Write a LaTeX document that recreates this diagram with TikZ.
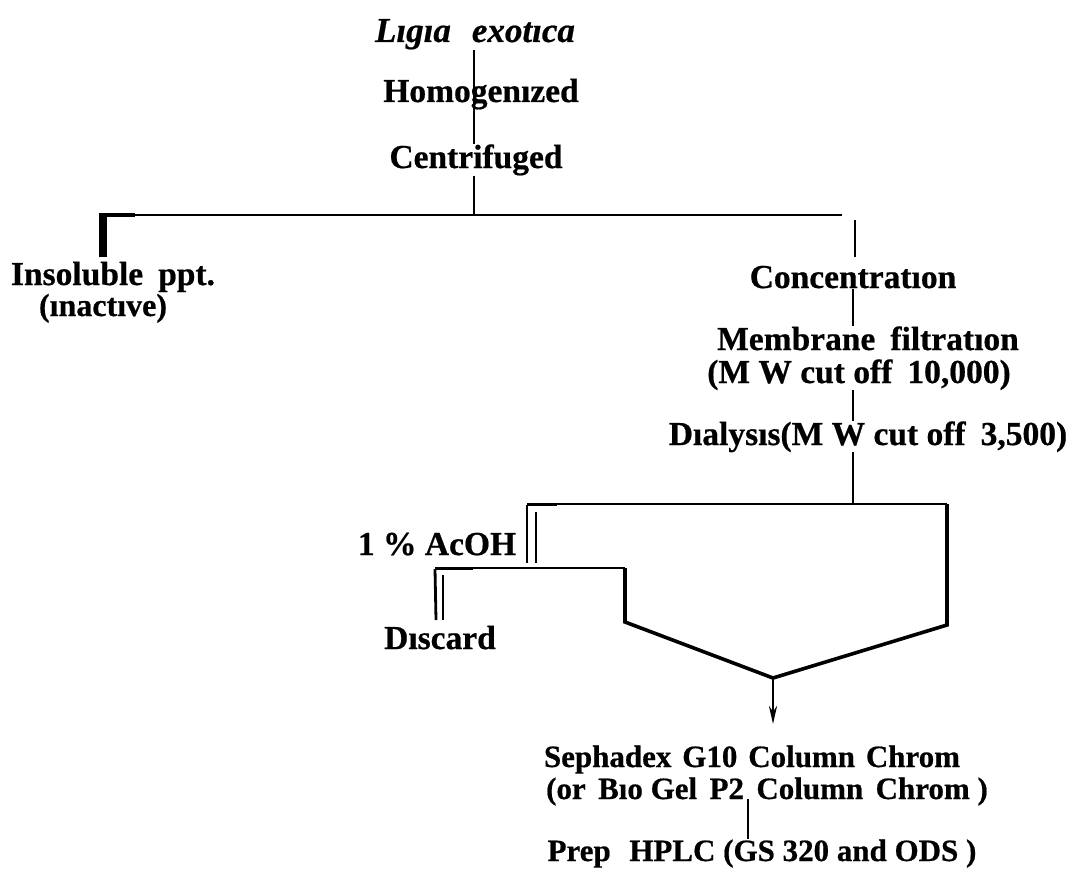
\documentclass[tikz,border=0pt]{standalone}
\usepackage{fontspec}
\setmainfont{Liberation Serif}[BoldFeatures={FakeBold=0.6},BoldItalicFeatures={FakeBold=0.6}]
\usetikzlibrary{arrows.meta}
\begin{document}
\begin{tikzpicture}[x=1pt,y=-1pt,
  lab/.style={anchor=base, inner sep=0pt, font=\fontsize{33.5}{40}\selectfont\bfseries},
  labs/.style={anchor=base, inner sep=0pt, font=\fontsize{31}{37}\selectfont\bfseries},
  hline/.style={line width=1.4pt},
  vline/.style={line width=2.8pt},
  dline/.style={line width=3.6pt, line join=miter},
  heavy/.style={line width=8pt}]
\useasboundingbox (0,0) rectangle (1076,880);
% texts
\node[lab, font=\fontsize{35}{40}\selectfont\bfseries\itshape] (lig) at (475,42) {Lıgıa\hspace{0.6em}exotıca};
\node[lab] (hom) at (481,102) {Homogenızed};
\node[lab] (cen) at (476,168) {Centrifuged};
\node[lab] (ins) at (113,285) {Insoluble\hspace{0.45em}ppt.};
\node[lab, font=\fontsize{32}{38}\selectfont\bfseries] (ina) at (103,316) {(ınactıve)};
\node[lab] (con) at (853,288) {Concentratıon};
\node[lab] (mem) at (868,350) {Membrane\hspace{0.45em}filtratıon};
\node[lab] (mwa) at (859,383) {(M W cut off\hspace{0.45em}10,000)};
\node[lab] (dia) at (868,445) {Dıalysıs(M W cut off\hspace{0.45em}3,500)};
\node[lab] (aco) at (437,555) {1 \% AcOH};
\node[lab] (dis) at (440,649) {Dıscard};
\node[labs] (sep) at (752,767) {Sephadex\hspace{0.35em}G10\hspace{0.35em}Column\hspace{0.35em}Chrom};
\node[labs] (bio) at (767,799) {(or\hspace{0.4em}Bıo Gel\hspace{0.4em}P2\hspace{0.4em}Column\hspace{0.4em}Chrom )};
\node[labs] (hplc) at (762,861) {Prep\hspace{0.6em}HPLC (GS 320 and ODS )};
% coordinates
\coordinate (spine) at (474,0);
\coordinate (rsp) at (853,0);
\coordinate (hl) at (100,215);
\coordinate (hr) at (842,215);
\coordinate (lt) at (103,257);
\coordinate (rt) at (855,220);
\coordinate (rb) at (855,257);
\coordinate (ua) at (527,504);
\coordinate (ub) at (947,504);
\coordinate (uc) at (947,625);
\coordinate (la) at (435,568);
\coordinate (lb) at (625,568);
\coordinate (lc) at (625,622);
\coordinate (jn) at (773,678);
\coordinate (tip) at (773,724);
\coordinate (bsp) at (748,0);
% top chain
\draw[vline] (lig.south -| spine) -- (cen.north -| spine);
\draw[vline] (cen.south -| spine) -- (spine |- hl);
\draw[hline] (hl) -- (hr);
\draw[line width=4pt] (hl) -- ++(35,0);
\draw[heavy] (103,213) -- (lt);
\draw[vline] (rt) -- (rb);
% right chain
\draw[vline] (con.south -| rsp) -- (mem.north -| rsp);
\draw[vline] (mwa.south -| rsp) -- (dia.north -| rsp);
\draw[vline] (dia.south -| rsp) -- (rsp |- ua);
% upper bracket
\draw[hline] (ua) -- (ub);
\draw[line width=3pt] (ua) -- ++(30,0);
\draw[dline] (ub) -- (uc) -- (jn);
\draw[vline] ([yshift=-1pt]ua) -- (527,563);
\draw[vline] (536,512) -- (536,563);
% lower bracket
\draw[hline] (la) -- (lb);
\draw[line width=3pt] (la) -- ++(38,0);
\draw[dline] (lb) -- (lc) -- (jn);
\draw[vline] ([yshift=-1pt]la) -- (436,620);
\draw[vline] (443,575) -- (443,620);
% arrow
\draw[vline, -{Stealth[length=18pt,width=8pt]}] (jn) -- (tip);
% bottom
\draw[vline] (bsp |- bio.base) -- (bsp |- hplc.north);
\end{tikzpicture}
\end{document}
